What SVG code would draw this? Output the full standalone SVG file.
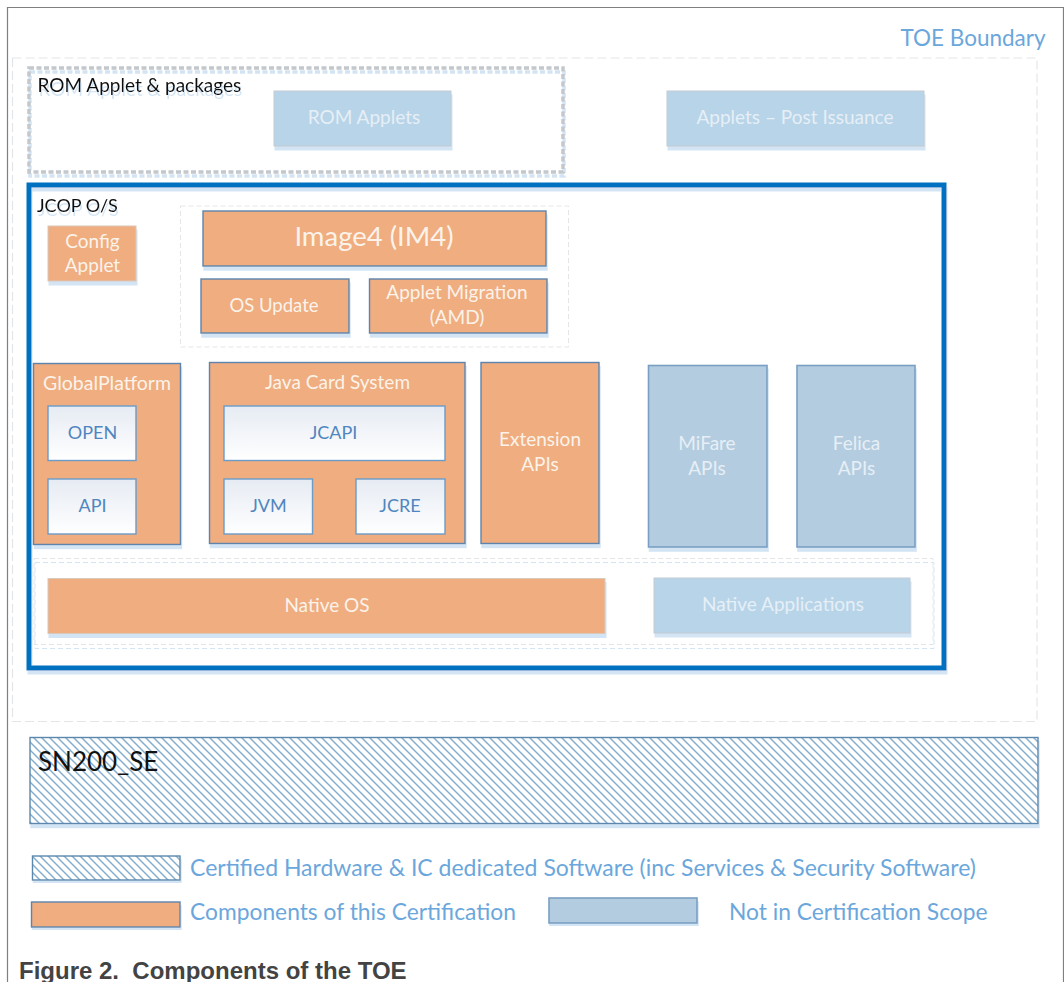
<svg xmlns="http://www.w3.org/2000/svg" width="1064" height="982" viewBox="0 0 1064 982">
<style>
text{font-family:"Lato","Open Sans","Liberation Sans",sans-serif;text-anchor:middle}
.s{filter:url(#sh)}
.o{fill:#efad80;stroke:#5b84ad;stroke-width:1.4}
.of{fill:#efad80;stroke:#d9c8bc;stroke-width:1}
.b{fill:#b8d4e8;stroke:#c4ccd4;stroke-width:1}
.g{fill:#b4ccdf;stroke:#7a9fc4;stroke-width:1.6}
.i{fill:url(#gr);stroke:#6a9cc9;stroke-width:1.4}
.d{fill:none;stroke:#e3e6e8;stroke-width:1;stroke-dasharray:5 3}
.h{fill:url(#ha);stroke:#5b88ad;stroke-width:1.4}
.w{fill:#fbf3ea;font-size:19px}
.l{fill:#e6eff6;font-size:19px}
.n{fill:#4f86bf;font-size:18px}
.k{fill:#111;text-anchor:start;font-size:19px}
.c{fill:#6ba7dc;text-anchor:start;font-size:23px}
</style>
<defs>
<filter id="sh" x="-5%" y="-5%" width="110%" height="115%"><feDropShadow dx="1" dy="4" stdDeviation="0.6" flood-color="#c4dcf0" flood-opacity="0.75"/></filter>
<linearGradient id="gr" x1="0" y1="0" x2="0" y2="1"><stop offset="0" stop-color="#e6ebf3"/><stop offset="1" stop-color="#ffffff"/></linearGradient>
<pattern id="ha" patternUnits="userSpaceOnUse" width="8" height="8"><rect width="8" height="8" fill="#ffffff"/><path d="M-1 -1L9 9M-1 7L1 9M7 -1L9 1" stroke="#86aecd" stroke-width="1.5"/></pattern>
</defs>
<rect width="1064" height="982" fill="#fff"/>
<path d="M7.5 982V7.5H1063.500V982" fill="none" stroke="#7f7f7f" stroke-width="1.2"/>
<g id="connectors"></g>
<g id="toe-boundary"><rect x="12.500" y="58" width="1024.500" height="663.500" fill="none" stroke="#e3e6e8" stroke-width="1.2" stroke-dasharray="9 4"/><text x="973" y="46" style="font-size:22.500px;fill:#6ba7dc">TOE Boundary</text></g>
<g id="rom-group"><rect class="s" x="29" y="68" width="534" height="104" fill="none" stroke="#c3c8cc" stroke-width="3.500" stroke-dasharray="5 2.500"/><text class="k s" x="37.500" y="92">ROM Applet &amp; packages</text></g>
<g id="rom-applets"><rect class="b s" x="274" y="91" width="177" height="55"/><text class="l" x="364" y="124">ROM Applets</text></g>
<g id="applets-post"><rect class="b s" x="667" y="91" width="257" height="55"/><text class="l" x="795" y="124">Applets – Post Issuance</text></g>
<g id="jcop"><rect class="s" x="29" y="185" width="915" height="483" fill="none" stroke="#0070c0" stroke-width="5"/><text class="k s" x="37" y="212" style="font-size:18px">JCOP O/S</text></g>
<g id="config-applet"><rect class="of s" x="48" y="226" width="88" height="55"/><text class="w" x="92.500" y="248">Config</text><text class="w" x="92.500" y="272">Applet</text></g>
<g id="update-group"><rect class="d" x="180.500" y="206" width="388" height="141"/></g>
<g id="image4"><rect class="o s" x="203" y="211" width="343" height="55"/><text class="w" x="374" y="246" style="font-size:27.500px">Image4 (IM4)</text></g>
<g id="os-update"><rect class="o s" x="201" y="279" width="148" height="54"/><text class="w" x="274" y="312" style="font-size:18.500px">OS Update</text></g>
<g id="applet-migration"><rect class="o s" x="369.500" y="279" width="177.500" height="54"/><text class="w" x="457" y="299">Applet Migration</text><text class="w" x="457" y="324">(AMD)</text></g>
<g id="globalplatform"><rect class="o s" x="33.500" y="363.500" width="147" height="181"/><text class="w" x="107" y="390" style="font-size:19.500px">GlobalPlatform</text></g>
<g id="open"><rect class="i" x="48" y="406" width="88" height="54.500"/><text class="n" x="92.500" y="439">OPEN</text></g>
<g id="api"><rect class="i" x="48" y="479" width="88" height="55"/><text class="n" x="92.500" y="512">API</text></g>
<g id="java-card-system"><rect class="o s" x="209.500" y="362.500" width="255.500" height="181"/><text class="w" x="337.500" y="389">Java Card System</text></g>
<g id="jcapi"><rect class="i" x="224" y="406" width="221" height="54.500"/><text class="n" x="333.500" y="439">JCAPI</text></g>
<g id="jvm"><rect class="i" x="224" y="479" width="88.500" height="55"/><text class="n" x="268.500" y="512">JVM</text></g>
<g id="jcre"><rect class="i" x="356" y="479" width="89" height="55"/><text class="n" x="400" y="512">JCRE</text></g>
<g id="extension-apis"><rect class="o s" x="481" y="362.500" width="118" height="181"/><text class="w" x="540" y="446">Extension</text><text class="w" x="540" y="471">APIs</text></g>
<g id="mifare-apis"><rect class="g s" x="648.500" y="365.500" width="118.500" height="181.500"/><text class="l" x="707" y="450">MiFare</text><text class="l" x="707" y="475">APIs</text></g>
<g id="felica-apis"><rect class="g s" x="797" y="365.500" width="118" height="181.500"/><text class="l" x="856.500" y="450">Felica</text><text class="l" x="856.500" y="475">APIs</text></g>
<g id="native-group"><rect class="d s" x="34" y="558.500" width="899" height="86"/></g>
<g id="native-os"><rect class="of s" x="48" y="578.500" width="557" height="55"/><text class="w" x="327" y="612">Native OS</text></g>
<g id="native-applications"><rect class="b s" x="654" y="578" width="256" height="55"/><text class="l" x="783" y="611">Native Applications</text></g>
<g id="sn200"><rect class="h s" x="30" y="737.500" width="1008" height="86"/><text class="k" x="38" y="771" style="font-size:26px">SN200_SE</text></g>
<g id="legend-hatch"><rect class="h s" x="32.500" y="856" width="147.500" height="24"/><text class="c" x="190" y="876">Certified Hardware &amp; IC dedicated Software (inc Services &amp; Security Software)</text></g>
<g id="legend-orange"><rect class="o s" x="31.500" y="902" width="148.500" height="25"/><text class="c" x="190" y="920" style="font-size:22.800px">Components of this Certification</text></g>
<g id="legend-blue"><rect class="g s" x="549" y="898" width="148" height="25"/><text class="c" x="729" y="920" style="font-size:22.800px">Not in Certification Scope</text></g>
<text x="19" y="979" style="font-family:'Liberation Sans',Arial,sans-serif;font-weight:700;font-size:24px;fill:#434343;text-anchor:start;white-space:pre" xml:space="preserve">Figure 2.  Components of the TOE</text>
</svg>
